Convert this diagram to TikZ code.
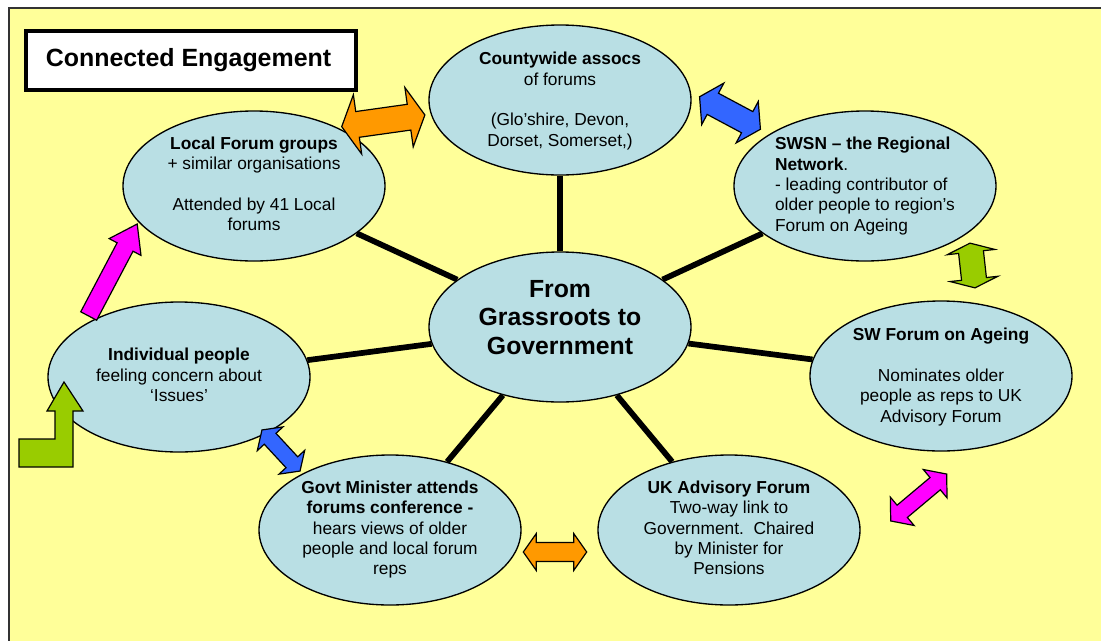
\documentclass[tikz,border=0pt]{standalone}
\usepackage{fontspec}
\setmainfont{Liberation Sans}
\usetikzlibrary{shapes.geometric}
\definecolor{bgyellow}{HTML}{FFFF99}
\definecolor{bubblefill}{RGB}{185,223,228}
\definecolor{arrorange}{HTML}{FF9900}
\definecolor{arrblue}{HTML}{3366FF}
\definecolor{arrgreen}{HTML}{99CC00}
\definecolor{arrmagenta}{HTML}{FF00FF}
\tikzset{
  bubble/.style={ellipse, draw=black, line width=1pt, fill=bubblefill,
    minimum width=196.5pt, minimum height=112.5pt, inner sep=0pt},
  btxt/.style={align=center, inner sep=0pt, font=\fontsize{13}{15.2}\selectfont},
  spoke/.style={line width=4.3pt},
  blockarrow/.style={draw=black, line width=0.9pt, line join=miter},
  titlebox/.style={draw=black, line width=2.8pt, fill=white, inner sep=0pt,
    minimum width=247.5pt, minimum height=44.25pt},
}
% double block arrow: #1,#2 centre (px), #3 angle, #4 half length, #5 half head width,
% #6 half shaft width, #7 head length, #8 colour
\newcommand\dblarr[8]{%
  \begin{scope}[shift={(#1,#2)}, rotate=#3, x=0.75pt, y=0.75pt]
    \draw[blockarrow, fill=#8] (-#4,0) -- ({-#4+#7},#5) -- ({-#4+#7},#6) -- ({#4-#7},#6)
      -- ({#4-#7},#5) -- (#4,0) -- ({#4-#7},-#5) -- ({#4-#7},-#6) -- ({-#4+#7},-#6)
      -- ({-#4+#7},-#5) -- cycle;
  \end{scope}}
% single block arrow: #1,#2 tail centre, #3 angle, #4 length, #5 half head,
% #6 half shaft, #7 head length, #8 colour
\newcommand\sglarr[8]{%
  \begin{scope}[shift={(#1,#2)}, rotate=#3, x=0.75pt, y=0.75pt]
    \draw[blockarrow, fill=#8] (0,#6) -- ({#4-#7},#6) -- ({#4-#7},#5) -- (#4,0)
      -- ({#4-#7},-#5) -- ({#4-#7},-#6) -- (0,-#6) -- cycle;
  \end{scope}}
\begin{document}
\begin{tikzpicture}[x=0.75pt, y=-0.75pt]
\useasboundingbox (0,0) rectangle (1101,640);
\clip (0,0) rectangle (1101,640);
\fill[white] (0,0) rectangle (1101,640);
\draw[fill=bgyellow, draw=black!80, line width=1pt] (9,8) rectangle (1130,670);

% title
\node[titlebox] (title) at (191,60.5) {};
\node[anchor=base, inner sep=0pt, font=\fontsize{18.7}{22}\selectfont\bfseries] (titletext) at (188.5,66) {Connected Engagement};

% ellipses
\node[bubble] (c)  at (560,327) {};
\node[bubble] (cw) at (560,100) {};
\node[bubble] (lf) at (254,186) {};
\node[bubble] (sw) at (865,186) {};
\node[bubble] (sf) at (941,376) {};
\node[bubble] (ip) at (179,377) {};
\node[bubble] (gm) at (390,530) {};
\node[bubble] (uk) at (729,530) {};

% spokes
\foreach \n in {cw,lf,sw,sf,ip,gm,uk}{\draw[spoke] (c) -- (\n);}

% texts
\node[align=center, inner sep=0pt, font=\fontsize{18.6}{21.5}\selectfont\bfseries] (ct) at (560,317.5)
  {From\\Grassroots to\\Government};
\node[btxt] (cwt) at (560,101)
  {\textbf{Countywide assocs}\\of forums\\[15.2pt](Glo’shire, Devon,\\Dorset, Somerset,)};
\node[btxt] (lft) at (254,184)
  {\textbf{Local Forum groups}\\+ similar organisations\\[15.2pt]Attended by 41 Local\\forums};
\node[btxt, align=left] (swt) at (865,186)
  {\textbf{SWSN – the Regional}\\\textbf{Network}.\\- leading contributor of\\older people to region’s\\Forum on Ageing};
\node[btxt] (sft) at (941,377)
  {\textbf{SW Forum on Ageing}\\[15.2pt]Nominates older\\people as reps to UK\\Advisory Forum};
\node[btxt] (ipt) at (179,375)
  {\textbf{Individual people}\\feeling concern about\\‘Issues’};
\node[btxt] (gmt) at (390,529.6)
  {\textbf{Govt Minister attends}\\\textbf{forums conference -}\\hears views of older\\people and local forum\\reps};
\node[btxt] (ukt) at (729,528)
  {\textbf{UK Advisory Forum}\\Two-way link to\\Government.\ \ Chaired\\by Minister for\\Pensions};

% block arrows
\dblarr{383.3}{120.8}{8}{42}{30}{13}{16}{arrorange}
\dblarr{730}{113}{-28.1}{34.5}{23.5}{12}{15}{arrblue}
\dblarr{972.5}{265.5}{-83.7}{22.5}{24}{12.5}{9}{arrgreen}
\sglarr{88.7}{316}{62.2}{104}{18}{9}{26}{arrmagenta}
\dblarr{281}{450.5}{-47.2}{28}{17.5}{8}{12}{arrblue}
\dblarr{555}{552}{0}{31.7}{18.5}{9.5}{13}{arrorange}
\dblarr{918.7}{497.5}{40}{36.5}{18.5}{8}{15}{arrmagenta}
\draw[blockarrow, fill=arrgreen] (19,467) -- (73,467) -- (73,411) -- (83,411) -- (64,382)
  -- (47,411) -- (55,411) -- (55,439) -- (19,439) -- cycle;
\end{tikzpicture}
\end{document}
